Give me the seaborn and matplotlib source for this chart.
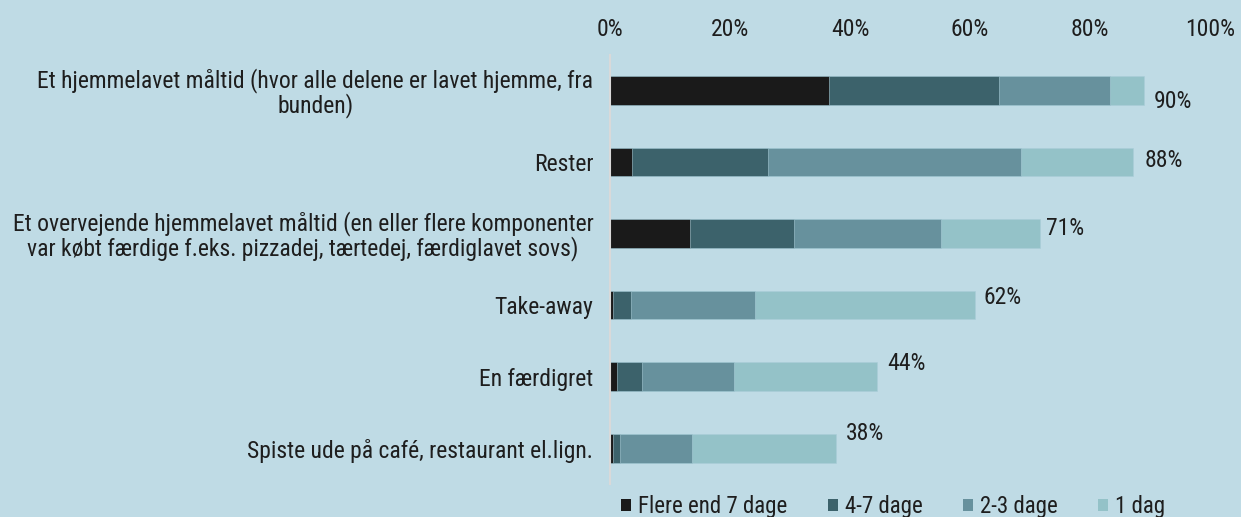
import matplotlib
matplotlib.use("Agg")
import matplotlib.pyplot as plt
from matplotlib import font_manager
from matplotlib.patches import Patch
import seaborn as sns
import numpy as np
import pandas as pd

categories = [
    "Et hjemmelavet måltid (hvor alle delene er lavet hjemme, fra\nbunden)",
    "Rester",
    "Et overvejende hjemmelavet måltid (en eller flere komponenter\nvar købt færdige f.eks. pizzadej, tærtedej, færdiglavet sovs)",
    "Take-away",
    "En færdigret",
    "Spiste ude på café, restaurant el.lign.",
]
series_names = ["Flere end 7 dage", "4-7 dage", "2-3 dage", "1 dag"]
flere_end_7 = [36.5, 3.6, 13.3, 0.5, 1.2, 0.5]
dage_4_7 = [28.3, 22.8, 17.4, 3.0, 4.1, 1.2]
dage_2_3 = [18.5, 42.1, 24.4, 20.6, 15.3, 12.0]
dag_1 = [5.7, 18.7, 16.6, 36.7, 23.9, 23.9]
total_labels = ["90%", "88%", "71%", "62%", "44%", "38%"]
tick_values = [0, 20, 40, 60, 80, 100]
tick_labels = ["0%", "20%", "40%", "60%", "80%", "100%"]

colors = ["#1a1a1a", "#3c626b", "#67919d", "#94c2c8"]
bg = "#bfdbe5"

sns.set_theme(style="white")
names = {f.name for f in font_manager.fontManager.ttflist}
condensed_dejavu = any(f.name == "DejaVu Sans" and f.stretch == "condensed"
                       for f in font_manager.fontManager.ttflist)
family = "DejaVu Sans"
for cand in ["Liberation Sans Narrow", "Roboto Condensed", "Open Sans Condensed"]:
    if cand in names:
        family = cand
        break
plt.rcParams["font.family"] = [family, "DejaVu Sans"]
if family == "DejaVu Sans" and condensed_dejavu:
    plt.rcParams["font.stretch"] = "condensed"
    fs, fs_cat, fs_num = 14, 14, 14
elif family == "DejaVu Sans":
    fs, fs_cat, fs_num = 12.5, 12.5, 12.5
else:
    fs, fs_cat, fs_num = 16.5, 17, 17
text_color = "#1e1e1e"

fig = plt.figure(figsize=(12.41, 5.17), dpi=100, facecolor=bg)
ax = fig.add_axes([610 / 1241, 1 - 484 / 517, 600 / 1241, (484 - 54.5) / 517])
ax.set_facecolor(bg)

data = np.array([flere_end_7, dage_4_7, dage_2_3, dag_1])
cum = np.cumsum(data, axis=0)
for i in range(3, -1, -1):
    df = pd.DataFrame({"cat": categories, "val": cum[i]})
    sns.barplot(data=df, x="val", y="cat", orient="h", color=colors[i],
                width=0.4, ax=ax, saturation=1, edgecolor="#a9cdd8",
                linewidth=0.4)

label_dx = [10, 11, 6, 9, 10, 10]
label_dy = [-11, 1, 4.5, 8, 13, 14.5]
for k, lab in enumerate(total_labels):
    ax.annotate(lab, xy=(cum[3][k], k), xytext=(label_dx[k], label_dy[k]),
                textcoords="offset pixels", ha="left", va="center",
                fontsize=fs_num, color=text_color)

ax.set_xlim(0, 100)
ax.set_ylim(5.5, -0.5)
ax.xaxis.tick_top()
ax.set_xticks(tick_values)
ax.set_xticklabels(tick_labels, fontsize=fs_num, color=text_color)
ax.tick_params(axis="x", length=0, pad=10)
ax.tick_params(axis="y", length=0, pad=12, labelsize=fs_cat, labelcolor=text_color)
for lab in ax.get_yticklabels():
    lab.set_multialignment("center")
    lab.set_linespacing(1.0)
ax.set_xlabel("")
ax.set_ylabel("")
for s in ["top", "right", "bottom"]:
    ax.spines[s].set_visible(False)
ax.spines["left"].set_color("#d9d9d9")
ax.spines["left"].set_linewidth(1.5)

handles = [Patch(facecolor=c, edgecolor="none", label=n) for c, n in zip(colors, series_names)]
leg = fig.legend(handles=handles, loc="center left", bbox_to_anchor=(621 / 1241, 1 - 507 / 517),
                 ncol=4, frameon=False, fontsize=fs, handlelength=0.45, handleheight=0.45,
                 handletextpad=0.3, columnspacing=1.75, borderaxespad=0, borderpad=0)
for t in leg.get_texts():
    t.set_color(text_color)

fig.savefig("out.png", dpi=100, facecolor=bg)
